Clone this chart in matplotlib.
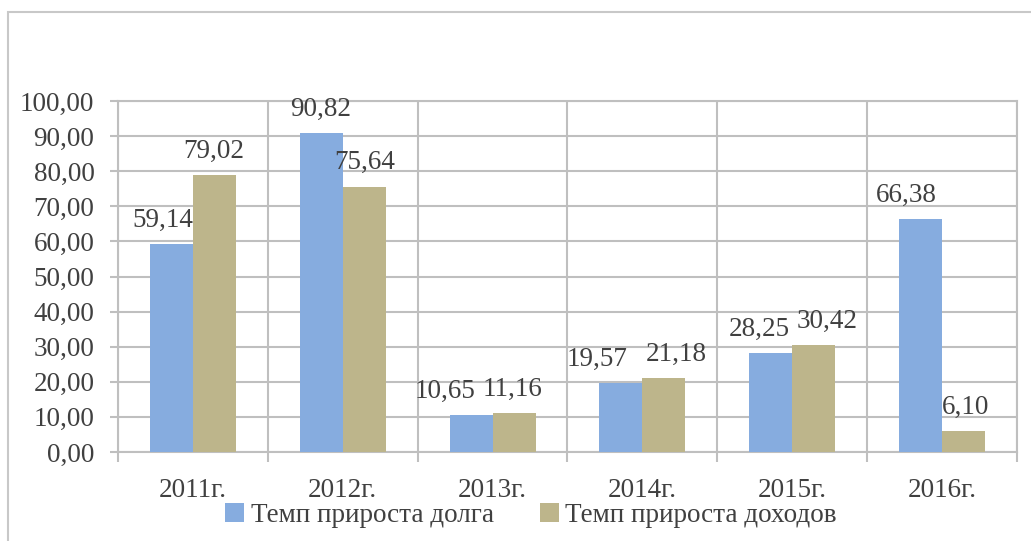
import matplotlib

matplotlib.use("Agg")
import matplotlib.pyplot as plt
import numpy as np
from matplotlib.patches import Rectangle

years = ["2011г.", "2012г.", "2013г.", "2014г.", "2015г.", "2016г."]
debt_growth = [59.14, 90.82, 10.65, 19.57, 28.25, 66.38]
income_growth = [79.02, 75.64, 11.16, 21.18, 30.42, 6.10]
series_names = ["Темп прироста долга", "Темп прироста доходов"]

# horizontal nudges (px) of the data labels, as the original layout shifts them
debt_nudge = [-9, -1, -26, -24, -11, -14]
income_nudge = [-1, 0, -2, 12, 13, 2]

BLUE = "#86acdf"
OLIVE = "#bdb58b"
GRID = "#bfbfbf"
TEXT = "#404040"
FS = 19.5

plt.rcParams["font.family"] = ["Liberation Serif", "DejaVu Serif"]

fig = plt.figure(figsize=(10.31, 5.41), dpi=100)
ax = fig.add_axes([118 / 1031, 1 - 452 / 541, (1017 - 118) / 1031, (452 - 101) / 541])

x = np.arange(len(years))
w = 0.287
b1 = ax.bar(x - w / 2, debt_growth, w, color=BLUE, label=series_names[0], zorder=3)
b2 = ax.bar(x + w / 2, income_growth, w, color=OLIVE, label=series_names[1], zorder=3)

for bars, vals, nudge in [(b1, debt_growth, debt_nudge), (b2, income_growth, income_nudge)]:
    for bar, v, dx in zip(bars, vals, nudge):
        ax.annotate(f"{v:.2f}".replace(".", ","),
                    xy=(bar.get_x() + bar.get_width() / 2, v),
                    xytext=(dx * 0.72, 8), textcoords="offset points",
                    ha="center", va="bottom", fontsize=FS, color=TEXT, zorder=4)

ax.set_xlim(-0.5, len(years) - 0.5)
ax.set_ylim(0, 100)
ax.set_yticks(np.arange(0, 101, 10))
ax.set_yticklabels([f"{v:.2f}".replace(".", ",") for v in np.arange(0, 101, 10)])
ax.set_xticks(x)
ax.set_xticklabels(years)
ax.set_xticks(np.arange(-0.5, len(years), 1.0), minor=True)

ax.tick_params(axis="x", which="major", length=0, pad=19, labelsize=FS, labelcolor=TEXT)
ax.tick_params(axis="x", which="minor", length=7, width=1.5, color=GRID)
ax.tick_params(axis="y", length=6, width=1.5, color=GRID, pad=11, labelsize=FS, labelcolor=TEXT)

ax.grid(axis="y", color=GRID, lw=1.5, zorder=0)
ax.grid(axis="x", which="minor", color=GRID, lw=1.5, zorder=0)
for sp in ax.spines.values():
    sp.set_color(GRID)
    sp.set_linewidth(1.5)

leg = fig.legend(loc="center", bbox_to_anchor=(0.515, 1 - 515 / 541), ncol=2,
                 frameon=False, fontsize=FS, handlelength=0.7, handleheight=0.7,
                 handletextpad=0.25, columnspacing=1.7, borderpad=0)
for t in leg.get_texts():
    t.set_color(TEXT)

# outer chart frame (only top and left edges are inside the picture)
fig.patches.append(Rectangle((8 / 1031, -0.1), 1.2, 1 - 12 / 541 + 0.1,
                             transform=fig.transFigure, fill=False,
                             edgecolor="#c8c8c8", lw=1.5, zorder=0))

fig.savefig("out.png", dpi=100)
